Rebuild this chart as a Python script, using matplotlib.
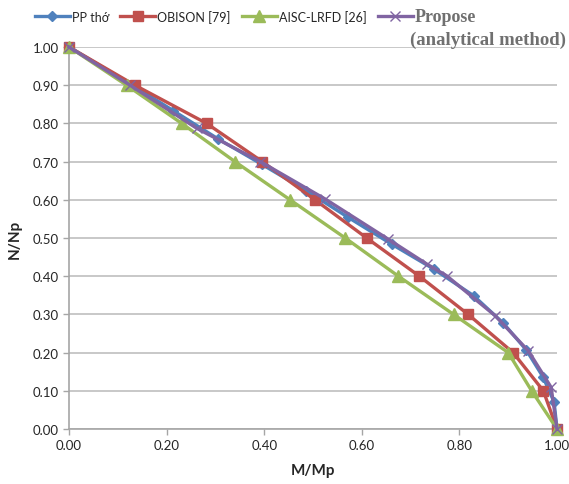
import matplotlib
matplotlib.use('Agg')
import matplotlib.pyplot as plt
from matplotlib.ticker import FormatStrFormatter

# PP tho (blue diamonds)
pp_x = [0.0, 0.13, 0.214, 0.306, 0.395, 0.486, 0.572, 0.661, 0.747, 0.829, 0.89, 0.937, 0.971, 0.994, 1.0]
pp_y = [1.0, 0.90, 0.833, 0.759, 0.693, 0.624, 0.554, 0.484, 0.419, 0.349, 0.277, 0.207, 0.137, 0.071, 0.0]

# OBISON [79] (red squares)
ob_x = [0.0, 0.135, 0.282, 0.396, 0.504, 0.61, 0.718, 0.818, 0.91, 0.972, 1.0]
ob_y = [1.0, 0.90, 0.80, 0.70, 0.60, 0.50, 0.40, 0.30, 0.20, 0.10, 0.0]

# AISC-LRFD [26] (green triangles)
ai_x = [0.0, 0.118, 0.231, 0.34, 0.453, 0.566, 0.675, 0.788, 0.90, 0.948, 1.0]
ai_y = [1.0, 0.90, 0.80, 0.70, 0.60, 0.50, 0.40, 0.30, 0.20, 0.10, 0.0]

# Propose (analytical method) (purple crosses)
pr_x = [0.0, 0.125, 0.262, 0.392, 0.525, 0.654, 0.733, 0.774, 0.873, 0.941, 0.988, 1.0]
pr_y = [1.0, 0.90, 0.787, 0.70, 0.602, 0.497, 0.432, 0.401, 0.297, 0.205, 0.109, 0.0]

x_ticks = [0.0, 0.2, 0.4, 0.6, 0.8, 1.0]
y_ticks = [0.0, 0.1, 0.2, 0.3, 0.4, 0.5, 0.6, 0.7, 0.8, 0.9, 1.0]

plt.rcParams['font.family'] = ['Lato', 'DejaVu Sans']

fig = plt.figure(figsize=(5.69, 4.85), dpi=100)
ax = fig.add_axes([69/569, 1 - 430/485, 488/569, 382/485])

ax.plot(pp_x, pp_y, color='#4F81BD', lw=2.4, marker='D', ms=5.5, label='PP thớ', clip_on=False, zorder=3)
ax.plot(ob_x, ob_y, color='#C0504D', lw=2.4, marker='s', ms=7, label='OBISON [79]', clip_on=False, zorder=3)
ax.plot(ai_x, ai_y, color='#9BBB59', lw=2.4, marker='^', ms=8, label='AISC-LRFD [26]', clip_on=False, zorder=3)
ax.plot(pr_x, pr_y, color='#8064A2', lw=2.4, marker='x', ms=7, mew=1, label='Propose', clip_on=False, zorder=4)

ax.set_xlim(0, 1.0)
ax.set_ylim(0, 1.0)
ax.set_xticks(x_ticks)
ax.set_yticks(y_ticks)
ax.xaxis.set_major_formatter(FormatStrFormatter('%.2f'))
ax.yaxis.set_major_formatter(FormatStrFormatter('%.2f'))
ax.tick_params(colors='#A6A6A6', labelcolor='#262626', labelsize=9.5, length=4, width=1)
ax.grid(axis='y', color='#BFBFBF', lw=1.2)
ax.set_axisbelow(True)
for s in ['top', 'right']:
    ax.spines[s].set_visible(False)
for s in ['left', 'bottom']:
    ax.spines[s].set_color('#A6A6A6')
    ax.spines[s].set_linewidth(1.2)

ax.set_xlabel('M/Mp', fontsize=11, fontweight='bold', color='#262626', labelpad=8)
ax.set_ylabel('N/Np', fontsize=11, fontweight='bold', color='#262626', labelpad=8)

leg = ax.legend(loc='lower left', bbox_to_anchor=(-0.08, 1.045), ncol=4, frameon=False,
                fontsize=9, handlelength=2.8, handletextpad=0.15, columnspacing=0.9,
                borderaxespad=0)
for t in leg.get_texts():
    t.set_color('#262626')
pt = leg.get_texts()[3]
pt.set_family('Liberation Serif')
pt.set_fontweight('bold')
pt.set_fontsize(13)
pt.set_color('#707070')
fig.text(0.995, 1 - 40/485, '(analytical method)', ha='right', va='center',
         family='Liberation Serif', fontweight='bold', fontsize=13.5, color='#707070')

fig.savefig('out.png', dpi=100)
